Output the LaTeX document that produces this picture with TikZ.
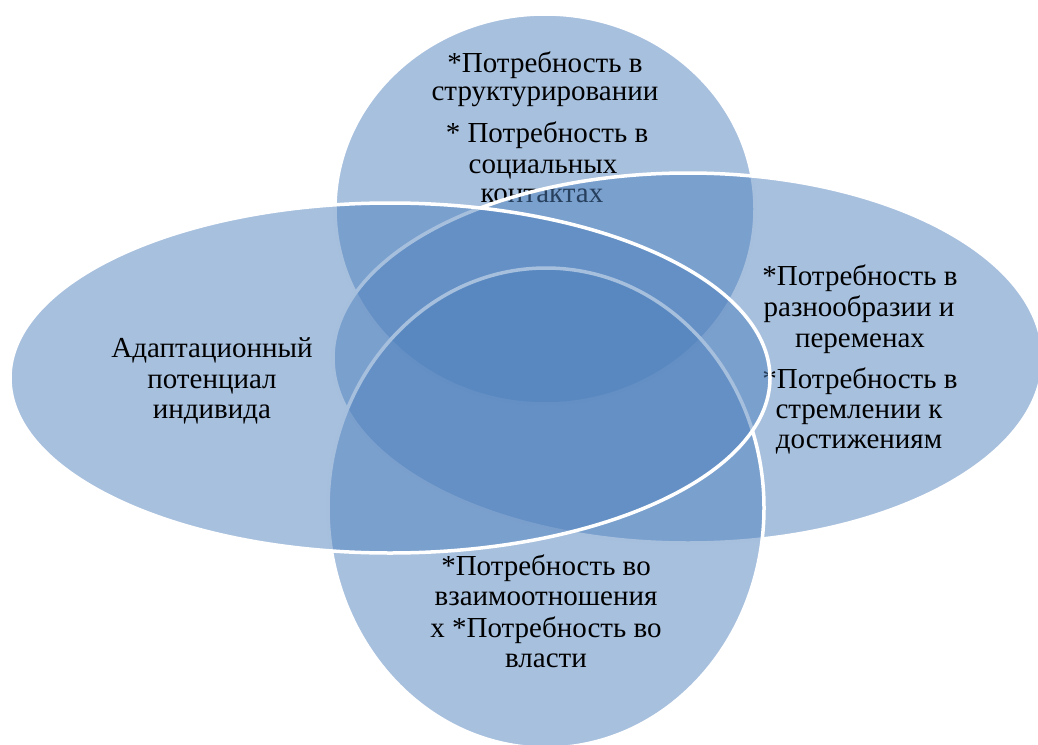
\documentclass[tikz,border=0pt]{standalone}
\usepackage{fontspec}
\setmainfont{Liberation Serif}
\definecolor{acc}{RGB}{79,129,189}
\tikzset{
  venn/.style={fill=acc, fill opacity=0.5, draw=white, line width=3.5pt},
  lbl/.style={anchor=base, inner sep=0pt, text=black, font=\fontsize{29}{31}\selectfont}
}
\begin{document}
\begin{tikzpicture}[x=1pt,y=-1pt]
\useasboundingbox (0,0) rectangle (1038,744);
\clip (0,0) rectangle (1038,744);
% top circle
\path[venn] (545,209) ellipse [x radius=210pt, y radius=195pt];
\node[lbl] (t1) at (545,72) {*Потребность в};
\node[lbl] (t2) at (545,100) {структурировании};
\node[lbl] (t3) at (547,142) {* Потребность в};
\node[lbl] (t4) at (543,173) {социальных};
\node[lbl] (t5) at (542,202) {контактах};
% right ellipse
\path[venn] (688,358) ellipse [x radius=355pt, y radius=185pt];
\node[lbl] (r1) at (860,285) {*Потребность в};
\node[lbl] (r2) at (859,316) {разнообразии и};
\node[lbl] (r3) at (860,347) {переменах};
\node[lbl] (r4) at (860,388) {*Потребность в};
\node[lbl] (r5) at (859,418) {стремлении к};
\node[lbl] (r6) at (859,448) {достижениям};
% bottom circle
\path[venn] (546,508) ellipse [x radius=218pt, y radius=240pt];
\node[lbl] (b1) at (546,575) {*Потребность во};
\node[lbl] (b2) at (546,605) {взаимоотношения};
\node[lbl] (b3) at (546,637) {х *Потребность во};
\node[lbl] (b4) at (546,667) {власти};
% left ellipse
\path[venn] (390,378) ellipse [x radius=380pt, y radius=175pt];
\node[lbl] (l1) at (212,357) {Адаптационный};
\node[lbl] (l2) at (212,388) {потенциал};
\node[lbl] (l3) at (212,418) {индивида};
\end{tikzpicture}
\end{document}
